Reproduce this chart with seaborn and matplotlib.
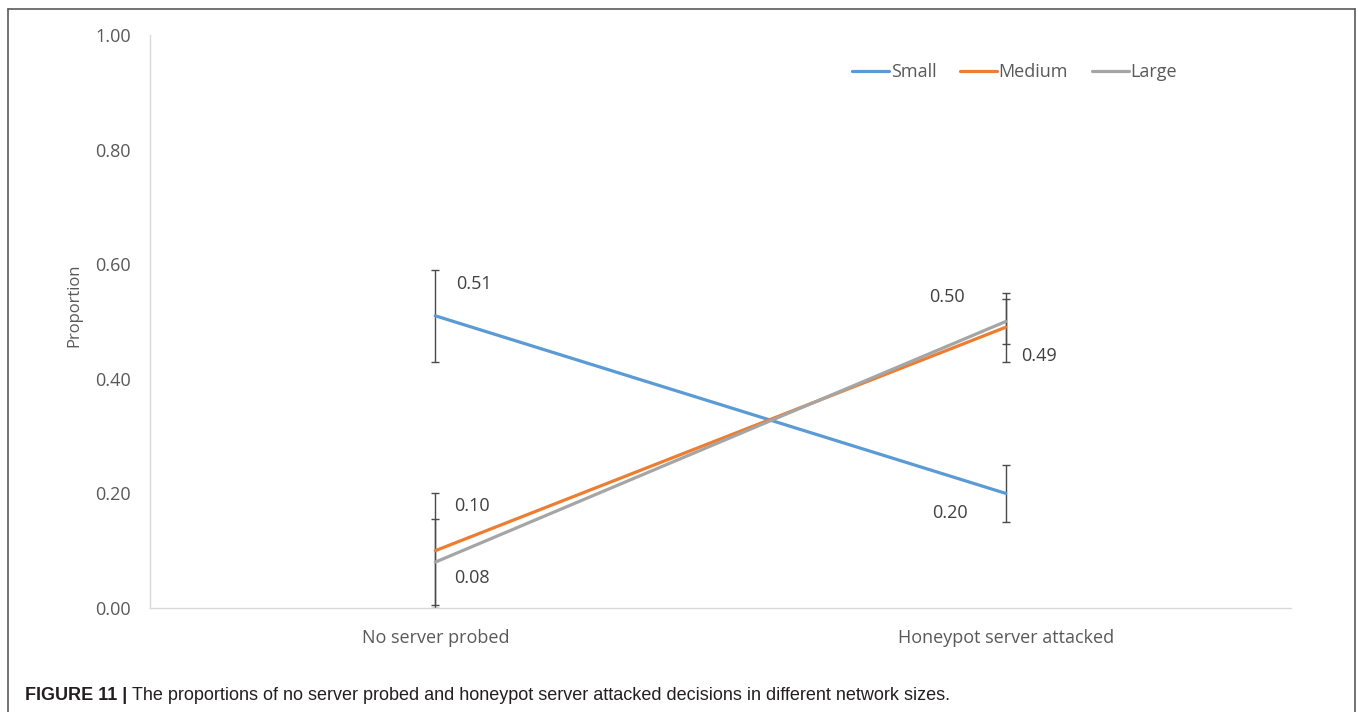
import numpy as np
import pandas as pd
import matplotlib
matplotlib.use("Agg")
import matplotlib.pyplot as plt
from matplotlib.lines import Line2D
import seaborn as sns

# ---- data -----------------------------------------------------------------
decisions = ["No server probed", "Honeypot server attacked"]
sizes = ["Small", "Medium", "Large"]
small_vals = [0.51, 0.20]
medium_vals = [0.10, 0.49]
large_vals = [0.08, 0.50]
small_err = [0.08, 0.05]
medium_err = [0.10, 0.06]
large_err = [0.075, 0.04]
y_ticks = [0.0, 0.2, 0.4, 0.6, 0.8, 1.0]
y_label = "Proportion"
caption_bold = "FIGURE 11 | "
caption_text = ("The proportions of no server probed and honeypot server attacked "
                "decisions in different network sizes.")

colors = {"Small": "#5B9BD5", "Medium": "#ED7D31", "Large": "#A5A5A5"}
values = {"Small": small_vals, "Medium": medium_vals, "Large": large_vals}
errors = {"Small": small_err, "Medium": medium_err, "Large": large_err}

df = pd.DataFrame({
    "decision": decisions * len(sizes),
    "size": [s for s in sizes for _ in decisions],
    "proportion": small_vals + medium_vals + large_vals,
})

# ---- figure ---------------------------------------------------------------
sns.set_theme(style="white")
plt.rcParams["font.family"] = ["Open Sans", "DejaVu Sans"]

W, H = 1358, 712
fig = plt.figure(figsize=(W / 100, H / 100), dpi=100)
fig.patch.set_facecolor("white")

# plot area in pixels: x 150..1291, y 35..608 (from top)
ax = fig.add_axes([150 / W, (H - 608) / H, (1291 - 150) / W, (608 - 35) / H])

text_col = "#595959"
label_col = "#404040"
fs = 13

# error bars beneath the lines
for i, s in enumerate(sizes):
    ax.errorbar(x=[0, 1], y=values[s], yerr=errors[s], fmt="none",
                ecolor="#4A4A4A", elinewidth=1.0, capsize=3.0, capthick=1.0,
                zorder=2)

sns.lineplot(data=df, x="decision", y="proportion", hue="size",
             hue_order=sizes, palette=colors, linewidth=2.3, ax=ax,
             sort=False, legend=False, zorder=3)

ax.set_xlim(-0.5, 1.5)
ax.set_ylim(0, 1.0)
ax.set_yticks(y_ticks)
ax.set_yticklabels([f"{v:.2f}" for v in y_ticks])
ax.set_xticks([0, 1])
ax.set_xticklabels(decisions)
ax.tick_params(axis="both", length=0, colors=text_col, labelsize=fs)
ax.tick_params(axis="y", pad=14)
ax.tick_params(axis="x", pad=15)
ax.set_xlabel("")
ax.set_ylabel(y_label, color=text_col, fontsize=12)
ax.yaxis.set_label_coords(-(150 - 82) / 1141, (608 - 305) / (608 - 35))

for side in ["top", "right"]:
    ax.spines[side].set_visible(False)
for side in ["left", "bottom"]:
    ax.spines[side].set_color("#D9D9D9")
    ax.spines[side].set_linewidth(1.0)
ax.set_facecolor("white")

# value labels (pixel offsets from each point)
offsets = {
    ("Small", 0): (39, 32), ("Small", 1): (-56, -20),
    ("Medium", 0): (37, 45), ("Medium", 1): (33, -29),
    ("Large", 0): (37, -16), ("Large", 1): (-59, 24),
}
for s in sizes:
    for i in range(2):
        dx, dy = offsets[(s, i)]
        ax.annotate(f"{values[s][i]:.2f}", xy=(i, values[s][i]),
                    xytext=(dx, dy), textcoords="offset pixels",
                    ha="center", va="center", fontsize=fs, color=label_col)

# legend at the top right of the plot area
handles = [Line2D([0], [0], color=colors[s], lw=2.3) for s in sizes]
leg = fig.legend(handles, sizes, loc="center left",
                 bbox_to_anchor=(852 / W, 1 - 72 / H), ncol=3, frameon=False,
                 fontsize=13, handlelength=2.05, handletextpad=0.1,
                 columnspacing=1.3, borderpad=0, borderaxespad=0)
for t in leg.get_texts():
    t.set_color(text_col)

# caption
cap_fonts = ["Liberation Sans Narrow", "Liberation Sans", "DejaVu Sans"]
cap_y = 1 - 695 / H
t1 = fig.text(25 / W, cap_y, caption_bold, fontsize=13, fontweight="bold",
              family=cap_fonts, color="#231F20", va="center", ha="left")
fig.canvas.draw()
bb = t1.get_window_extent()
fig.text(bb.x1 / W, cap_y, caption_text, fontsize=13, family=cap_fonts,
         color="#231F20", va="center", ha="left")

# figure frame
frame_col = "#5A5A5A"
fx0, fx1, fy0 = 8 / W, 1355 / W, 1 - 9 / H
for xs, ys in [([fx0, fx1], [fy0, fy0]), ([fx0, fx0], [fy0, 0]),
               ([fx1, fx1], [fy0, 0])]:
    fig.add_artist(Line2D(xs, ys, color=frame_col, lw=1.2,
                          transform=fig.transFigure))

fig.savefig("out.png", dpi=100)
